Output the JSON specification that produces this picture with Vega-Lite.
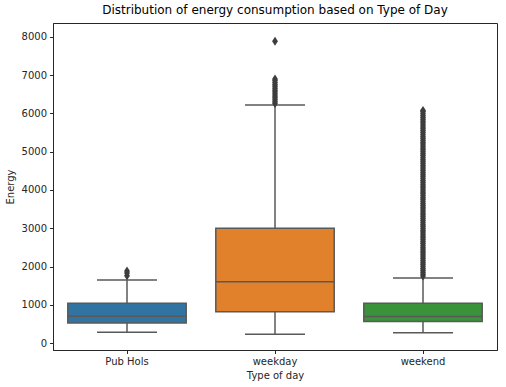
{
  "$schema": "https://vega.github.io/schema/vega-lite/v6.json",
  "width": 444,
  "height": 327,
  "autosize": {"type": "none"},
  "padding": {"left": 53, "top": 23, "right": 9, "bottom": 37},
  "background": "white",
  "title": {"text": "Distribution of energy consumption based on Type of Day", "fontSize": 12, "fontWeight": "normal", "font": "DejaVu Sans", "color": "#000", "offset": 6},
  "datasets": {
    "boxes": [
      {"day": "Pub Hols", "lower": 280, "q1": 520, "median": 700, "q3": 1040, "upper": 1650},
      {"day": "weekday", "lower": 230, "q1": 820, "median": 1600, "q3": 3000, "upper": 6220},
      {"day": "weekend", "lower": 270, "q1": 560, "median": 690, "q3": 1040, "upper": 1700}
    ],
    "outliers": [
      {"day": "Pub Hols", "energy": 1760},
      {"day": "Pub Hols", "energy": 1830},
      {"day": "Pub Hols", "energy": 1880},
      {"day": "weekday", "energy": 6260},
      {"day": "weekday", "energy": 6310},
      {"day": "weekday", "energy": 6360},
      {"day": "weekday", "energy": 6410},
      {"day": "weekday", "energy": 6460},
      {"day": "weekday", "energy": 6510},
      {"day": "weekday", "energy": 6560},
      {"day": "weekday", "energy": 6610},
      {"day": "weekday", "energy": 6660},
      {"day": "weekday", "energy": 6710},
      {"day": "weekday", "energy": 6760},
      {"day": "weekday", "energy": 6810},
      {"day": "weekday", "energy": 6860},
      {"day": "weekday", "energy": 6900},
      {"day": "weekday", "energy": 7890},
      {"day": "weekend", "energy": 1750},
      {"day": "weekend", "energy": 1800},
      {"day": "weekend", "energy": 1850},
      {"day": "weekend", "energy": 1900},
      {"day": "weekend", "energy": 1950},
      {"day": "weekend", "energy": 2000},
      {"day": "weekend", "energy": 2050},
      {"day": "weekend", "energy": 2100},
      {"day": "weekend", "energy": 2150},
      {"day": "weekend", "energy": 2200},
      {"day": "weekend", "energy": 2250},
      {"day": "weekend", "energy": 2300},
      {"day": "weekend", "energy": 2350},
      {"day": "weekend", "energy": 2400},
      {"day": "weekend", "energy": 2450},
      {"day": "weekend", "energy": 2500},
      {"day": "weekend", "energy": 2550},
      {"day": "weekend", "energy": 2600},
      {"day": "weekend", "energy": 2650},
      {"day": "weekend", "energy": 2700},
      {"day": "weekend", "energy": 2750},
      {"day": "weekend", "energy": 2800},
      {"day": "weekend", "energy": 2850},
      {"day": "weekend", "energy": 2900},
      {"day": "weekend", "energy": 2950},
      {"day": "weekend", "energy": 3000},
      {"day": "weekend", "energy": 3050},
      {"day": "weekend", "energy": 3100},
      {"day": "weekend", "energy": 3150},
      {"day": "weekend", "energy": 3200},
      {"day": "weekend", "energy": 3250},
      {"day": "weekend", "energy": 3300},
      {"day": "weekend", "energy": 3350},
      {"day": "weekend", "energy": 3400},
      {"day": "weekend", "energy": 3450},
      {"day": "weekend", "energy": 3500},
      {"day": "weekend", "energy": 3550},
      {"day": "weekend", "energy": 3600},
      {"day": "weekend", "energy": 3650},
      {"day": "weekend", "energy": 3700},
      {"day": "weekend", "energy": 3750},
      {"day": "weekend", "energy": 3800},
      {"day": "weekend", "energy": 3850},
      {"day": "weekend", "energy": 3900},
      {"day": "weekend", "energy": 3950},
      {"day": "weekend", "energy": 4000},
      {"day": "weekend", "energy": 4050},
      {"day": "weekend", "energy": 4100},
      {"day": "weekend", "energy": 4150},
      {"day": "weekend", "energy": 4200},
      {"day": "weekend", "energy": 4250},
      {"day": "weekend", "energy": 4300},
      {"day": "weekend", "energy": 4350},
      {"day": "weekend", "energy": 4400},
      {"day": "weekend", "energy": 4450},
      {"day": "weekend", "energy": 4500},
      {"day": "weekend", "energy": 4550},
      {"day": "weekend", "energy": 4600},
      {"day": "weekend", "energy": 4650},
      {"day": "weekend", "energy": 4700},
      {"day": "weekend", "energy": 4750},
      {"day": "weekend", "energy": 4800},
      {"day": "weekend", "energy": 4850},
      {"day": "weekend", "energy": 4900},
      {"day": "weekend", "energy": 4950},
      {"day": "weekend", "energy": 5000},
      {"day": "weekend", "energy": 5050},
      {"day": "weekend", "energy": 5100},
      {"day": "weekend", "energy": 5150},
      {"day": "weekend", "energy": 5200},
      {"day": "weekend", "energy": 5250},
      {"day": "weekend", "energy": 5300},
      {"day": "weekend", "energy": 5350},
      {"day": "weekend", "energy": 5400},
      {"day": "weekend", "energy": 5450},
      {"day": "weekend", "energy": 5500},
      {"day": "weekend", "energy": 5550},
      {"day": "weekend", "energy": 5600},
      {"day": "weekend", "energy": 5650},
      {"day": "weekend", "energy": 5700},
      {"day": "weekend", "energy": 5750},
      {"day": "weekend", "energy": 5800},
      {"day": "weekend", "energy": 5850},
      {"day": "weekend", "energy": 5900},
      {"day": "weekend", "energy": 5950},
      {"day": "weekend", "energy": 6000},
      {"day": "weekend", "energy": 6050},
      {"day": "weekend", "energy": 6080}
    ]
  },
  "encoding": {
    "x": {
      "field": "day", "type": "nominal", "title": "Type of day",
      "sort": ["Pub Hols", "weekday", "weekend"],
      "scale": {"domain": ["Pub Hols", "weekday", "weekend"], "paddingInner": 0, "paddingOuter": 0},
      "axis": {"labelAngle": 0, "titlePadding": 4}
    }
  },
  "layer": [
    {
      "data": {"name": "boxes"},
      "mark": {"type": "rule", "color": "#595959", "strokeWidth": 1.5},
      "encoding": {
        "y": {"field": "lower", "type": "quantitative", "title": "Energy",
          "scale": {"domain": [-183, 8366], "nice": false, "zero": false},
          "axis": {"values": [0, 1000, 2000, 3000, 4000, 5000, 6000, 7000, 8000], "format": "d", "titlePadding": 6}},
        "y2": {"field": "q1"}
      }
    },
    {
      "data": {"name": "boxes"},
      "mark": {"type": "rule", "color": "#595959", "strokeWidth": 1.5},
      "encoding": {
        "y": {"field": "q3", "type": "quantitative"},
        "y2": {"field": "upper"}
      }
    },
    {
      "data": {"name": "boxes"},
      "mark": {"type": "tick", "color": "#595959", "size": 60, "thickness": 1.5, "opacity": 1},
      "encoding": {"y": {"field": "lower", "type": "quantitative"}}
    },
    {
      "data": {"name": "boxes"},
      "mark": {"type": "tick", "color": "#595959", "size": 60, "thickness": 1.5, "opacity": 1},
      "encoding": {"y": {"field": "upper", "type": "quantitative"}}
    },
    {
      "data": {"name": "boxes"},
      "mark": {"type": "bar", "width": {"band": 0.8}, "stroke": "#595959", "strokeWidth": 1.5, "opacity": 1},
      "encoding": {
        "y": {"field": "q1", "type": "quantitative"},
        "y2": {"field": "q3"},
        "color": {"field": "day", "type": "nominal", "legend": null,
          "scale": {"domain": ["Pub Hols", "weekday", "weekend"], "range": ["#3274a1", "#e1812c", "#3a923a"]}}
      }
    },
    {
      "data": {"name": "boxes"},
      "mark": {"type": "tick", "color": "#595959", "size": 118, "thickness": 1.5, "opacity": 1},
      "encoding": {"y": {"field": "median", "type": "quantitative"}}
    },
    {
      "data": {"name": "outliers"},
      "mark": {"type": "point", "filled": true, "color": "#3d3d3d", "opacity": 1, "size": 80, "shape": "M0,-1L0.65,0L0,1L-0.65,0Z"},
      "encoding": {"y": {"field": "energy", "type": "quantitative"}}
    }
  ],
  "config": {
    "view": {"stroke": "#262626", "strokeWidth": 1},
    "font": "DejaVu Sans",
    "axis": {
      "grid": false,
      "domainColor": "#262626",
      "tickColor": "#262626",
      "tickSize": 3.5,
      "labelColor": "#262626",
      "labelFontSize": 10,
      "titleFontSize": 10,
      "titleFontWeight": "normal",
      "titleColor": "#262626",
      "labelFont": "DejaVu Sans",
      "titleFont": "DejaVu Sans",
      "labelPadding": 3
    }
  }
}
